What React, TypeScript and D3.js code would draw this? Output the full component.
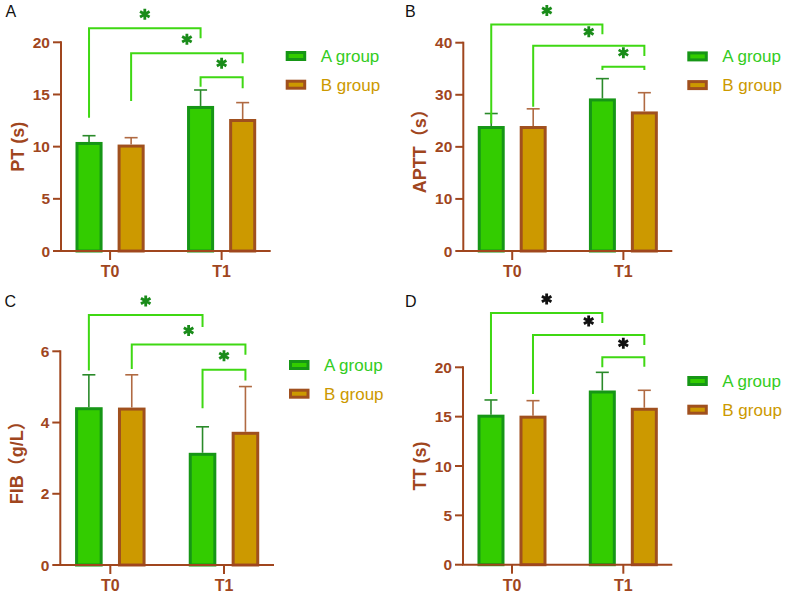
import * as d3 from "d3";

// ── Data ──────────────────────────────────────────────────────────────────────

const groups = ["T0", "T1"];
const seriesNames = ["A group", "B group"];

// PT (s)
const ptA = [10.45, 13.9];
const ptASd = [0.6, 1.53];
const ptB = [10.2, 12.65];
const ptBSd = [0.66, 1.57];
const ptTicks = [0, 5, 10, 15, 20];

// APTT (s)
const apttA = [24.0, 29.3];
const apttASd = [2.4, 3.8];
const apttB = [24.0, 26.8];
const apttBSd = [3.3, 3.6];
const apttTicks = [0, 10, 20, 30, 40];

// FIB (g/L)
const fibA = [4.43, 3.15];
const fibASd = [0.91, 0.73];
const fibB = [4.42, 3.74];
const fibBSd = [0.92, 1.27];
const fibTicks = [0, 2, 4, 6];

// TT (s)
const ttA = [15.2, 17.65];
const ttASd = [1.49, 1.84];
const ttB = [15.1, 15.9];
const ttBSd = [1.52, 1.77];
const ttTicks = [0, 5, 10, 15, 20];

// significance brackets: [group, series] ends, heights in data units
interface Bracket {
  from: [number, number];
  to: [number, number];
  top: number;
  leftEnd: number;
  rightEnd: number;
}

const ptBrackets: Bracket[] = [
  { from: [0, 0], to: [1, 0], top: 21.35, leftEnd: 12.78, rightEnd: 20.39 },
  { from: [0, 1], to: [1, 1], top: 18.95, leftEnd: 14.38, rightEnd: 18.0 },
  { from: [1, 0], to: [1, 1], top: 16.65, leftEnd: 15.75, rightEnd: 15.6 },
];
const apttBrackets: Bracket[] = [
  { from: [0, 0], to: [1, 0], top: 43.5, leftEnd: 24.5, rightEnd: 41.6 },
  { from: [0, 1], to: [1, 1], top: 39.4, leftEnd: 27.7, rightEnd: 37.45 },
  { from: [1, 0], to: [1, 1], top: 35.4, leftEnd: 34.75, rightEnd: 34.75 },
];
const fibBrackets: Bracket[] = [
  { from: [0, 0], to: [1, 0], top: 7.02, leftEnd: 5.46, rightEnd: 6.68 },
  { from: [0, 1], to: [1, 1], top: 6.19, leftEnd: 5.5, rightEnd: 5.9 },
  { from: [1, 0], to: [1, 1], top: 5.48, leftEnd: 4.4, rightEnd: 5.18 },
];
const ttBrackets: Bracket[] = [
  { from: [0, 0], to: [1, 0], top: 25.5, leftEnd: 17.3, rightEnd: 24.49 },
  { from: [0, 1], to: [1, 1], top: 23.27, leftEnd: 17.3, rightEnd: 22.26 },
  { from: [1, 0], to: [1, 1], top: 21.01, leftEnd: 20.0, rightEnd: 20.06 },
];

// ── Styles / layout ───────────────────────────────────────────────────────────

const FONT = "'Liberation Sans', Arial, 'Noto Sans CJK SC', sans-serif";
const AXIS = "#a0461e";
const FILL = ["#33cc00", "#cc9900"];
const STROKE = ["#169616", "#a0501e"];
const ERR = ["#2a8a2a", "#b06a42"];
const LEGEND_TEXT = ["#33cc22", "#cc9900"];
const BRACKET = "#3fd813";

interface Layout {
  lx: number;
  ly: number;
  left: number;
  right: number;
  top: number;
  bottom: number;
}

interface PanelSpec {
  letter: string;
  yLabel: string;
  a: number[];
  aSd: number[];
  b: number[];
  bSd: number[];
  ticks: number[];
  brackets: Bracket[];
  starColor: string;
  layout: Layout;
}

const panels: PanelSpec[] = [
  {
    letter: "A", yLabel: "PT (s)", a: ptA, aSd: ptASd, b: ptB, bSd: ptBSd,
    ticks: ptTicks, brackets: ptBrackets, starColor: "#1a8c1a",
    layout: { lx: 5.5, ly: 17, left: 61, right: 270.7, top: 42.3, bottom: 251 },
  },
  {
    letter: "B", yLabel: "APTT（s）", a: apttA, aSd: apttASd, b: apttB, bSd: apttBSd,
    ticks: apttTicks, brackets: apttBrackets, starColor: "#1a8c1a",
    layout: { lx: 405, ly: 17, left: 463.3, right: 672.3, top: 42.7, bottom: 251 },
  },
  {
    letter: "C", yLabel: "FIB（g/L）", a: fibA, aSd: fibASd, b: fibB, bSd: fibBSd,
    ticks: fibTicks, brackets: fibBrackets, starColor: "#1a8c1a",
    layout: { lx: 4.5, ly: 306.8, left: 60.3, right: 274, top: 351.3, bottom: 565 },
  },
  {
    letter: "D", yLabel: "TT (s)", a: ttA, aSd: ttASd, b: ttB, bSd: ttBSd,
    ticks: ttTicks, brackets: ttBrackets, starColor: "#111111",
    layout: { lx: 405, ly: 306.8, left: 463, right: 672.3, top: 367.3, bottom: 564.7 },
  },
];

const asterisk = d3.symbol(d3.symbolAsterisk, 85);

// ── Panel ─────────────────────────────────────────────────────────────────────

function Panel({ spec }: { spec: PanelSpec }) {
  const { layout: L } = spec;
  const yMax = spec.ticks[spec.ticks.length - 1];
  const y = d3.scaleLinear().domain([0, yMax]).range([L.bottom, L.top]);
  const x = d3.scalePoint<string>().domain(groups).range([L.left, L.right]).padding(0.44);
  const step = x.step();
  const sub = d3
    .scaleBand<string>()
    .domain(seriesNames)
    .range([-step * 0.31, step * 0.31])
    .paddingInner(0.357);
  const bw = sub.bandwidth();

  const means = [spec.a, spec.b];
  const sds = [spec.aSd, spec.bSd];
  const center = (g: number, s: number) => x(groups[g])! + sub(seriesNames[s])! + bw / 2;

  return (
    <g>
      <text x={L.lx} y={L.ly} fontSize={16} fontFamily={FONT} fill="#111">
        {spec.letter}
      </text>

      {/* bars */}
      {groups.map((g, gi) =>
        seriesNames.map((s, si) => {
          const v = means[si][gi];
          const cx = center(gi, si);
          return (
            <g key={`${g}-${s}`}>
              <rect
                x={cx - bw / 2 + 1.5}
                y={y(v) + 1.5}
                width={bw - 3}
                height={Math.max(0, y(0) - y(v) - 1.5)}
                fill={FILL[si]}
                stroke={STROKE[si]}
                strokeWidth={3}
              />
              <line
                x1={cx}
                x2={cx}
                y1={y(v)}
                y2={y(v + sds[si][gi])}
                stroke={ERR[si]}
                strokeWidth={1.6}
              />
              <line
                x1={cx - 6.5}
                x2={cx + 6.5}
                y1={y(v + sds[si][gi])}
                y2={y(v + sds[si][gi])}
                stroke={ERR[si]}
                strokeWidth={1.6}
              />
            </g>
          );
        })
      )}

      {/* y axis */}
      <line x1={L.left} x2={L.left} y1={L.top - 1} y2={L.bottom} stroke={AXIS} strokeWidth={2} />
      {spec.ticks.map((t) => (
        <g key={t}>
          <line x1={L.left - 8} x2={L.left} y1={y(t)} y2={y(t)} stroke={AXIS} strokeWidth={2} />
          <text
            x={L.left - 11}
            y={y(t) + 5.5}
            textAnchor="end"
            fontSize={15.5}
            fontWeight="bold"
            fontFamily={FONT}
            fill={AXIS}
          >
            {t}
          </text>
        </g>
      ))}
      <text
        transform={`translate(${L.left - 44},${(L.top + L.bottom) / 2}) rotate(-90)`}
        y={6.5}
        textAnchor="middle"
        fontSize={18}
        fontWeight="bold"
        fontFamily={FONT}
        fill={AXIS}
      >
        {spec.yLabel}
      </text>

      {/* x axis */}
      <line x1={L.left - 1} x2={L.right} y1={L.bottom} y2={L.bottom} stroke={AXIS} strokeWidth={2} />
      {groups.map((g) => (
        <g key={g}>
          <line x1={x(g)} x2={x(g)} y1={L.bottom} y2={L.bottom + 9} stroke={AXIS} strokeWidth={2} />
          <text
            x={x(g)}
            y={L.bottom + 26}
            textAnchor="middle"
            fontSize={16}
            fontWeight="bold"
            fontFamily={FONT}
            fill={AXIS}
          >
            {g}
          </text>
        </g>
      ))}

      {/* significance brackets */}
      {spec.brackets.map((b, i) => {
        const x1 = center(b.from[0], b.from[1]);
        const x2 = center(b.to[0], b.to[1]);
        const yt = y(b.top);
        return (
          <g key={i}>
            <path
              d={`M${x1},${y(b.leftEnd)}V${yt}H${x2}V${y(b.rightEnd)}`}
              fill="none"
              stroke={BRACKET}
              strokeWidth={2}
            />
            <path
              d={asterisk()!}
              transform={`translate(${(x1 + x2) / 2},${yt - 14})`}
              fill="none"
              stroke={spec.starColor}
              strokeWidth={2.8}
            />
          </g>
        );
      })}

      {/* legend */}
      {seriesNames.map((s, si) => {
        const cy = L.top + 13.7 + si * 28.7;
        return (
          <g key={s}>
            <rect
              x={L.right + 16.5}
              y={cy - 3.5}
              width={17.5}
              height={7}
              fill={FILL[si]}
              stroke={STROKE[si]}
              strokeWidth={3}
            />
            <text
              x={L.right + 50}
              y={cy + 6}
              fontSize={17}
              fontFamily={FONT}
              fill={LEGEND_TEXT[si]}
            >
              {s}
            </text>
          </g>
        );
      })}
    </g>
  );
}

export default function App() {
  return (
    <div style={{ position: "absolute", left: 0, top: 0 }}>
      <svg width={788} height={598} style={{ display: "block", background: "#fff" }}>
        {panels.map((p) => (
          <Panel key={p.letter} spec={p} />
        ))}
      </svg>
    </div>
  );
}
